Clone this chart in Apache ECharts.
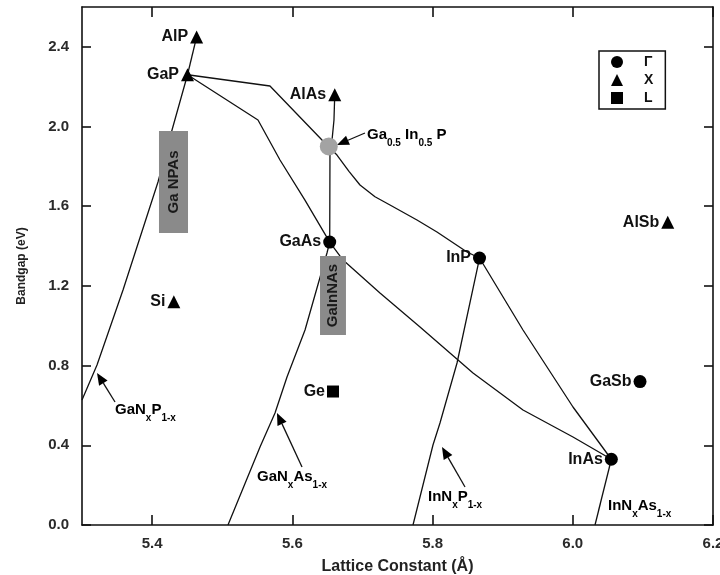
<!DOCTYPE html>
<html>
<head>
<meta charset="utf-8">
<script src="https://cdn.jsdelivr.net/npm/echarts@6/dist/echarts.min.js"></script>
<style>
  html, body { margin: 0; padding: 0; background: #fff; }
  #chart { width: 720px; height: 575px; }
</style>
</head>
<body>
<div id="chart"></div>
<script>
const FONT = '"Liberation Sans", Arial, Helvetica, sans-serif';

// Tick values
const xTicks = [5.4, 5.6, 5.8, 6.0, 6.2];
const yTicks = [0.0, 0.4, 0.8, 1.2, 1.6, 2.0, 2.4];

// Binary semiconductors grouped by where the band-gap minimum sits
const gammaNames   = ['GaAs', 'InP', 'GaSb', 'InAs'];
const gammaLattice = [5.6533, 5.867, 6.0959, 6.055];
const gammaGap     = [1.42, 1.34, 0.72, 0.33];

const xNames   = ['AlP', 'GaP', 'AlAs', 'AlSb', 'Si'];
const xLattice = [5.4635, 5.4505, 5.6605, 6.1355, 5.431];
const xGap     = [2.45, 2.26, 2.16, 1.52, 1.12];

const lNames   = ['Ge'];
const lLattice = [5.658];
const lGap     = [0.67];

// Lattice-matched ternary
const gaInPLattice = [5.652];
const gaInPGap     = [1.90];

// Alloy curves (lattice constant, band gap)
const alGaPLattice = [5.4505, 5.4635];
const alGaPGap     = [2.26, 2.45];

const gaInPCurveLattice = [5.4505, 5.5681, 5.6423, 5.6637, 5.6808, 5.6965, 5.7179, 5.7393, 5.7778, 5.8063, 5.8491, 5.867];
const gaInPCurveGap     = [2.26, 2.2035, 1.9324, 1.857, 1.775, 1.7066, 1.6475, 1.6062, 1.5309, 1.4707, 1.3703, 1.34];

const gaAsPLattice = [5.4505, 5.551, 5.5824, 5.618, 5.6533];
const gaAsPGap     = [2.26, 2.0328, 1.832, 1.631, 1.42];

const alGaAsLattice = [5.6533, 5.6537, 5.6566, 5.6594, 5.6605];
const alGaAsGap     = [1.42, 1.882, 1.932, 2.033, 2.16];

const inGaAsLattice = [5.6533, 5.6723, 5.725, 5.7821, 5.8577, 5.929, 6.0003, 6.055];
const inGaAsGap     = [1.42, 1.330, 1.1645, 0.9938, 0.7629, 0.5772, 0.4417, 0.33];

const inAsPLattice = [5.867, 5.929, 6.0003, 6.055];
const inAsPGap     = [1.34, 0.9788, 0.5923, 0.33];

const gaNPLattice = [5.4505, 5.4284, 5.4084, 5.3585, 5.3214, 5.3];
const gaNPGap     = [2.26, 1.9826, 1.7216, 1.1795, 0.8031, 0.6274];

const gaNAsLattice = [5.6533, 5.6494, 5.6181, 5.5924, 5.5753, 5.5539, 5.5082];
const gaNAsGap     = [1.42, 1.3652, 0.9788, 0.7429, 0.5622, 0.3915, 0.0];

const inNPLattice = [5.867, 5.8349, 5.8106, 5.8006, 5.7721];
const inNPGap     = [1.34, 0.8131, 0.512, 0.4015, 0.0];

const inNAsLattice = [6.055, 6.0317];
const inNAsGap     = [0.33, 0.0];

const zip = (a, b) => a.map((v, i) => [v, b[i]]);

const curveStyle = { color: '#111', width: 1.3 };
function curve(name, xs, ys) {
  return {
    name, type: 'line', data: zip(xs, ys), showSymbol: false, symbol: 'none',
    lineStyle: curveStyle, z: 2, silent: true, clip: true
  };
}

const pointLabel = {
  show: true, position: 'left', distance: 2,
  formatter: p => p.name,
  fontFamily: FONT, fontWeight: 'bold', fontSize: 16, color: '#111'
};
function points(name, names, xs, ys, symbol, size, color) {
  return {
    name, type: 'scatter', symbol, symbolSize: size,
    data: names.map((n, i) => ({ name: n, value: [xs[i], ys[i]] })),
    itemStyle: { color: color || '#000', opacity: 1 },
    label: pointLabel, z: 5
  };
}

// Shaded boxes naming the quaternary alloys
const boxes = [
  { text: 'Ga NPAs', x0: 5.4098, x1: 5.4512, y0: 1.4656, y1: 1.9776 },
  { text: 'GaInNAs', x0: 5.6395, x1: 5.6765, y0: 0.9537, y1: 1.3502 }
];

// Pointer arrows (tail -> head) and their captions
const arrows = [
  { from: [5.3471, 0.6174], to: [5.3214, 0.7629] },
  { from: [5.6138, 0.2911], to: [5.5781, 0.5622] },
  { from: [5.8463, 0.1907], to: [5.8135, 0.3915] },
  { from: [5.7036, 1.9676], to: [5.6637, 1.9073] }
];
const captions = [
  { at: [5.3471, 0.5772], text: '{m|GaN}{s|x}{m|P}{s|1-x}' },
  { at: [5.5496, 0.2409], text: '{m|GaN}{s|x}{m|As}{s|1-x}' },
  { at: [5.7935, 0.1405], text: '{m|InN}{s|x}{m|P}{s|1-x}' },
  { at: [6.0502, 0.0954], text: '{m|InN}{s|x}{m|As}{s|1-x}' },
  { at: [5.7065, 1.9575], text: '{m|Ga}{s|0.5}{m| In}{s|0.5}{m| P}' }
];
const richSub = {
  m: { fontFamily: FONT, fontWeight: 'bold', fontSize: 15, color: '#111', lineHeight: 26, verticalAlign: 'middle' },
  s: { fontFamily: FONT, fontWeight: 'bold', fontSize: 10, color: '#111', lineHeight: 10, verticalAlign: 'bottom' }
};

const chart = echarts.init(document.getElementById('chart'), null, { renderer: 'canvas' });

const axisLineStyle = { color: '#111', width: 1.6 };

const option = {
  backgroundColor: '#fff',
  animation: false,
  grid: { left: 82, right: 7, top: 7, bottom: 50, containLabel: false, outerBoundsMode: 'none' },
  legend: {
    data: ['Γ', 'X', 'L'],
    orient: 'vertical',
    left: 599, top: 51,
    padding: [4, 12, 4, 12],
    itemGap: 4, itemWidth: 12, itemHeight: 12,
    borderColor: '#111', borderWidth: 1.5,
    selectedMode: false,
    textStyle: { fontFamily: FONT, fontWeight: 'bold', fontSize: 14, color: '#111', padding: [0, 0, 0, 16] }
  },
  xAxis: [{
    type: 'value', min: 5.3, max: 6.2,
    name: 'Lattice Constant (Å)', nameLocation: 'middle', nameGap: 34,
    nameTextStyle: { fontFamily: FONT, fontWeight: 'bold', fontSize: 16, color: '#222' },
    axisLine: { show: true, onZero: false, lineStyle: axisLineStyle },
    axisTick: { show: true, inside: true, length: 10, customValues: xTicks, lineStyle: axisLineStyle },
    axisLabel: { customValues: xTicks, formatter: v => v.toFixed(1), margin: 11,
      fontFamily: FONT, fontWeight: 'bold', fontSize: 15, color: '#2a2a2a' },
    splitLine: { show: false }
  }, {
    type: 'value', position: 'top', min: 5.3, max: 6.2,
    axisLine: { show: true, onZero: false, lineStyle: axisLineStyle },
    axisTick: { show: true, inside: true, length: 10, customValues: xTicks, lineStyle: axisLineStyle },
    axisLabel: { show: false }, splitLine: { show: false }
  }],
  yAxis: [{
    type: 'value', min: 0, max: 2.6,
    name: 'Bandgap (eV)', nameLocation: 'middle', nameGap: 54,
    nameTextStyle: { fontFamily: FONT, fontWeight: 'bold', fontSize: 12, color: '#222' },
    axisLine: { show: true, onZero: false, lineStyle: axisLineStyle },
    axisTick: { show: true, inside: true, length: 9, customValues: yTicks, lineStyle: axisLineStyle },
    axisLabel: { customValues: yTicks, formatter: v => v.toFixed(1), margin: 13,
      fontFamily: FONT, fontWeight: 'bold', fontSize: 15, color: '#2a2a2a' },
    splitLine: { show: false }
  }, {
    type: 'value', position: 'right', min: 0, max: 2.6,
    axisLine: { show: true, onZero: false, lineStyle: axisLineStyle },
    axisTick: { show: true, inside: true, length: 9, customValues: yTicks, lineStyle: axisLineStyle },
    axisLabel: { show: false }, splitLine: { show: false }
  }],
  series: [
    curve('AlGaP', alGaPLattice, alGaPGap),
    curve('GaInP', gaInPCurveLattice, gaInPCurveGap),
    curve('GaAsP', gaAsPLattice, gaAsPGap),
    curve('AlGaAs', alGaAsLattice, alGaAsGap),
    curve('InGaAs', inGaAsLattice, inGaAsGap),
    curve('InAsP', inAsPLattice, inAsPGap),
    curve('GaNP', gaNPLattice, gaNPGap),
    curve('GaNAs', gaNAsLattice, gaNAsGap),
    curve('InNP', inNPLattice, inNPGap),
    curve('InNAs', inNAsLattice, inNAsGap),
    {
      name: 'boxes', type: 'custom', z: 3, silent: true,
      data: boxes.map((b, i) => [b.x0, b.y0, i]),
      renderItem: (params, api) => {
        const b = boxes[params.dataIndex];
        const p0 = api.coord([b.x0, b.y1]);
        const p1 = api.coord([b.x1, b.y0]);
        const w = p1[0] - p0[0], h = p1[1] - p0[1];
        return {
          type: 'group',
          children: [
            { type: 'rect', shape: { x: p0[0], y: p0[1], width: w, height: h }, style: { fill: '#8a8a8a' } },
            { type: 'text', x: p0[0] + w / 2, y: p0[1] + h / 2, rotation: Math.PI / 2,
              style: { text: b.text, align: 'center', verticalAlign: 'middle',
                font: 'bold 15px ' + FONT, fill: '#1a1a1a' } }
          ]
        };
      }
    },
    {
      name: 'arrows', type: 'custom', z: 4, silent: true,
      data: arrows.map((a, i) => [a.to[0], a.to[1], i]),
      renderItem: (params, api) => {
        const a = arrows[params.dataIndex];
        const t = api.coord(a.from), h = api.coord(a.to);
        const dx = h[0] - t[0], dy = h[1] - t[1];
        const len = Math.sqrt(dx * dx + dy * dy);
        const ux = dx / len, uy = dy / len;
        const hl = 12, hw = 5;
        const bx = h[0] - ux * hl, by = h[1] - uy * hl;
        return {
          type: 'group',
          children: [
            { type: 'line', shape: { x1: t[0], y1: t[1], x2: bx, y2: by }, style: { stroke: '#111', lineWidth: 1.3 } },
            { type: 'polygon', shape: { points: [[h[0], h[1]], [bx - uy * hw, by + ux * hw], [bx + uy * hw, by - ux * hw]] },
              style: { fill: '#000' } }
          ]
        };
      }
    },
    {
      name: 'captions', type: 'custom', z: 4, silent: true,
      data: captions.map((c, i) => [c.at[0], c.at[1], i]),
      renderItem: (params, api) => {
        const c = captions[params.dataIndex];
        const p = api.coord(c.at);
        return {
          type: 'text', x: p[0], y: p[1],
          style: { text: c.text, rich: richSub, align: 'left', verticalAlign: 'middle' }
        };
      }
    },
    points('Γ', gammaNames, gammaLattice, gammaGap, 'circle', 13),
    points('X', xNames, xLattice, xGap, 'triangle', 13),
    points('L', lNames, lLattice, lGap, 'rect', 12),
    Object.assign(points('Ga0.5In0.5P', [''], gaInPLattice, gaInPGap, 'circle', 18, '#a3a3a3'), { label: { show: false }, z: 4 })
  ]
};

chart.setOption(option);
</script>
</body>
</html>
